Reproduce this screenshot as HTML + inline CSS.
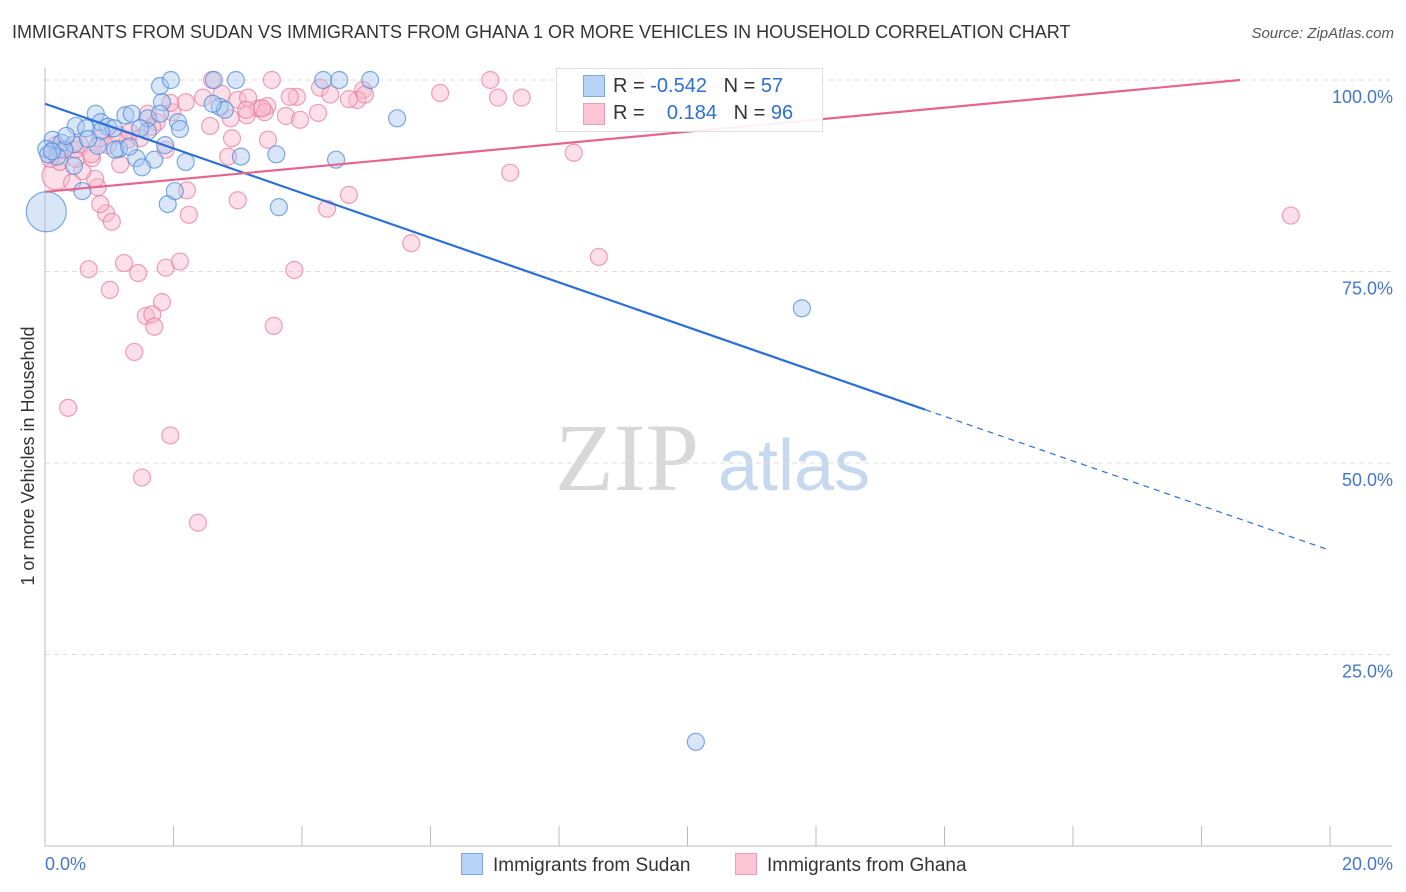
<!DOCTYPE html>
<html><head><meta charset="utf-8"><style>
body{margin:0;background:#fff;font-family:"Liberation Sans",sans-serif;}
#c{position:relative;width:1406px;height:892px;overflow:hidden;}
.t{position:absolute;white-space:nowrap;}
</style></head><body>
<div id="c">
<div class="t" style="left:12px;top:22px;font-size:18px;color:#333">IMMIGRANTS FROM SUDAN VS IMMIGRANTS FROM GHANA 1 OR MORE VEHICLES IN HOUSEHOLD CORRELATION CHART</div>
<div class="t" style="right:12px;top:25px;font-size:15px;color:#555;font-style:italic">Source: ZipAtlas.com</div>
<svg id="s" width="1406" height="892" style="position:absolute;left:0;top:0"></svg>
</div>
<script>
const yTicks=[100,75,50,25];
const yTickLabels=["100.0%","75.0%","50.0%","25.0%"];
const xTickLabels=["0.0%","20.0%"];
const sudanX=[1.79,1.96,2.63,2.97,4.33,4.58,5.06,1.82,2.72,2.80,5.48,0.79,1.25,1.35,1.60,2.07,2.10,0.48,0.64,0.87,0.98,1.07,1.60,0.87,0.12,0.26,0.45,0.82,1.15,1.87,0.30,0.02,0.19,1.42,1.70,2.19,3.05,3.60,4.53,1.51,0.45,0.58,1.91,3.64,2.02,0.02,11.78,10.13,0.05,0.11,1.09,1.31,0.67,0.33,1.48,1.79,2.61];
const sudanY=[99.2,100,100,100,100,100,100,97.1,96.5,96.1,95.0,95.6,95.4,95.6,95.0,94.5,93.6,94.0,93.7,94.5,93.9,93.7,93.3,93.3,92.2,91.8,91.6,91.4,91.0,91.5,90.9,91.0,90.0,89.8,89.6,89.3,90.0,90.3,89.6,88.6,88.8,85.5,83.8,83.4,85.5,82.8,70.2,13.6,90.3,90.7,90.9,91.3,92.3,92.7,93.7,95.6,96.9];
const sudanW=[1,1,1,1,1,1,1,1,1,1,1,1,1,1,1,1,1,1,1,1,1,1,1,1,1,1,1,1,1,1,1,1,1,1,1,1,1,1,1,1,1,1,1,1,1,6,1,1,1,1,1,1,1,1,1,1,1];
const ghanaX=[2.60,3.53,6.93,9.20,4.28,4.95,4.86,4.73,6.15,7.05,7.42,2.46,2.75,3.32,3.46,3.42,3.14,3.75,3.92,3.97,4.25,1.98,1.60,1.74,2.57,2.91,3.47,2.85,1.88,2.19,8.23,7.24,19.39,4.73,3.00,4.39,2.21,2.24,0.82,0.95,1.04,0.86,0.78,0.58,0.17,0.23,0.48,0.73,0.98,1.29,1.17,1.67,1.95,3.00,3.16,2.89,0.72,0.42,0.68,1.23,1.45,1.88,2.10,3.88,5.70,8.62,1.01,1.82,1.57,1.67,1.70,3.56,1.39,0.36,1.95,1.51,2.38,3.38,3.13,0.08,0.23,0.47,0.54,0.86,1.14,1.32,0.17,1.48,3.81,4.44,4.98];
const ghanaY=[100,100,100,100,99.0,98.7,97.4,97.5,98.3,97.7,97.7,97.7,98.2,96.3,96.6,95.8,95.4,95.3,97.8,94.8,95.7,95.8,95.6,94.5,94.0,92.4,92.2,90.0,90.9,97.1,90.5,87.9,82.3,85.0,84.3,83.2,85.6,82.4,86.0,82.6,81.5,83.8,87.1,88.1,87.5,89.3,89.7,89.8,91.5,92.2,89.0,93.9,97.0,97.4,97.7,95.0,90.3,86.6,75.3,76.1,74.8,75.5,76.3,75.2,78.7,76.9,72.6,71.0,69.2,69.4,67.8,67.9,64.5,57.2,53.6,48.1,42.2,96.3,96.1,89.7,90.9,90.9,91.6,92.4,92.8,93.2,91.5,92.4,97.8,98.1,98.1];
const ghanaW=ghanaX.map((v,i)=>i===44?3:1);
const sudanFit=[96.9,38.6];
const ghanaFit=[85.4,101.1];
const ghanaFitEndX=18.6;
const X0=45,X1=1330,Y0=846,Y1=80;
const sx=v=>X0+(v/20)*(X1-X0);
const sy=v=>Y0-(v/100)*(Y0-Y1);
const s=document.getElementById('s');
const NS='http://www.w3.org/2000/svg';
function mk(tag,at,parent){const e=document.createElementNS(NS,tag);for(const k in at)e.setAttribute(k,at[k]);(parent||s).appendChild(e);return e;}
// watermark
let wm=mk('text',{x:555,y:490,'font-size':96,'font-family':'Liberation Serif,serif',fill:'#d8d8d8'});wm.textContent='ZIP';


let wm2=mk('text',{x:718,y:490,'font-size':72,'font-family':'Liberation Sans,sans-serif',fill:'#c6d8ee'});wm2.textContent='atlas';


// grid
yTicks.forEach((t,i)=>{
 const g=mk('line',{x1:X0,x2:1392,y1:sy(t),y2:sy(t),stroke:'#ddd','stroke-dasharray':'5,4'});
 
 
 const l=mk('text',{x:1393,y:sy(t)+23,'text-anchor':'end','font-size':18,fill:'#4477cc'});l.textContent=yTickLabels[i];
 
 
});
const ax=mk('line',{x1:X0,x2:X0,y1:68,y2:Y0,stroke:'#bbb'});


const bx=mk('line',{x1:X0,x2:1392,y1:Y0,y2:Y0,stroke:'#bbb'});


for(let i=0;i<=10;i++){const tk=mk('line',{x1:sx(i*2),x2:sx(i*2),y1:826,y2:Y0,stroke:'#bbb'});
 
 }
[[0,'start',45],[20,'end',1393]].forEach((d,i)=>{const l=mk('text',{x:d[2],y:870,'text-anchor':d[1],'font-size':18,fill:'#4477cc'});l.textContent=xTickLabels[i];
 
 });
const yt=mk('text',{x:0,y:0,transform:'translate(34,456) rotate(-90)','text-anchor':'middle','font-size':18,fill:'#333'});yt.textContent='1 or more Vehicles in Household';


// points
function pts(xs,ys,ws,fill,stroke,name){xs.forEach((x,i)=>{const c=mk('circle',{cx:sx(x),cy:sy(ys[i]),r:ws[i]>1?8+ws[i]*2:8.5,fill:fill,'fill-opacity':0.45,stroke:stroke,'stroke-opacity':0.7,'stroke-width':1.2});
 
 });}
pts(ghanaX,ghanaY,ghanaW,'#f9b8cb','#e8799a','ghana-point');
pts(sudanX,sudanY,sudanW,'#a8c8f0','#4a86d8','sudan-point');
// fits
const xb=13.7;
const yb=sudanFit[0]+(sudanFit[1]-sudanFit[0])*xb/20;
const f1=mk('line',{x1:sx(0),y1:sy(sudanFit[0]),x2:sx(xb),y2:sy(yb),stroke:'#2a6fd6','stroke-width':2.2});


const f2=mk('line',{x1:sx(xb),y1:sy(yb),x2:sx(20),y2:sy(sudanFit[1]),stroke:'#2a6fd6','stroke-width':1.2,'stroke-dasharray':'6,5'});


const ge=ghanaFit[0]+(ghanaFit[1]-ghanaFit[0])*ghanaFitEndX/20;
const f3=mk('line',{x1:sx(0),y1:sy(ghanaFit[0]),x2:sx(ghanaFitEndX),y2:sy(Math.min(ge,100)),stroke:'#e36690','stroke-width':2.2});


</script>
<div class="t" style="left:556px;top:68px;width:265px;height:62px;border:1px solid #ddd;background:rgba(255,255,255,.9);font-size:20px;color:#333">
 <div style="position:absolute;left:26px;top:6px;width:20px;height:20px;background:#b6d2f5;border:1px solid #7aa8e6"></div>
 <div style="position:absolute;left:56px;top:6px">R = <span style="color:#2a6fd6">-0.542</span>&nbsp;&nbsp;&nbsp;N = <span style="color:#2a6fd6">57</span></div>
 <div style="position:absolute;left:26px;top:34px;width:20px;height:20px;background:#fcc5d5;border:1px solid #f09ab5"></div>
 <div style="position:absolute;left:56px;top:33px">R = &nbsp;&nbsp;&nbsp;<span style="color:#2a6fd6">0.184</span>&nbsp;&nbsp;&nbsp;N = <span style="color:#2a6fd6">96</span></div>
</div>
<div class="t" style="left:461px;top:853px;font-size:19px;color:#333"><span style="display:inline-block;width:20px;height:20px;background:#b6d2f5;border:1px solid #7aa8e6;vertical-align:-4px;margin-right:10px"></span>Immigrants from Sudan</div>
<div class="t" style="left:735px;top:853px;font-size:19px;color:#333"><span style="display:inline-block;width:20px;height:20px;background:#fcc5d5;border:1px solid #f09ab5;vertical-align:-4px;margin-right:10px"></span>Immigrants from Ghana</div>
</body></html>
